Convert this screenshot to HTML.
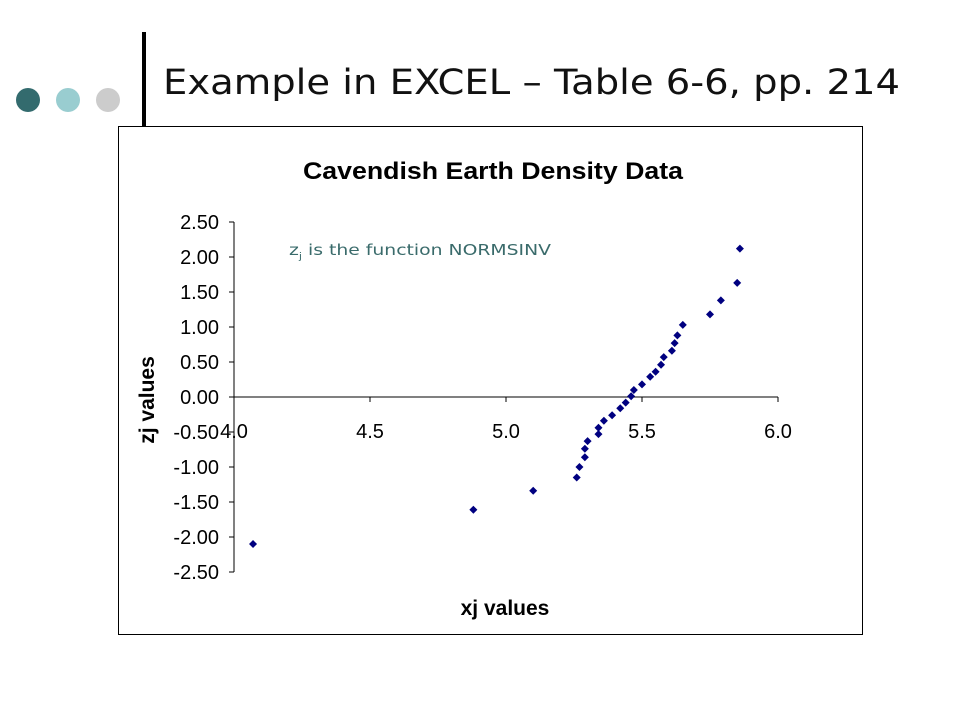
<!DOCTYPE html>
<html><head><meta charset="utf-8"><style>
body{margin:0;width:960px;height:720px;background:#fff;overflow:hidden;font-family:"Liberation Sans",sans-serif}
</style></head><body>
<svg width="960" height="720" xmlns="http://www.w3.org/2000/svg">
<circle cx="28" cy="100" r="12" fill="#336b6e"/>
<circle cx="68" cy="100" r="12" fill="#99cdd0"/>
<circle cx="108" cy="100" r="12" fill="#cccccc"/>
<rect x="142" y="32" width="4" height="94" fill="#000"/>
<text x="163" y="94" font-family="DejaVu Sans, sans-serif" font-size="35" fill="#111" textLength="737" lengthAdjust="spacingAndGlyphs">Example in EXCEL – Table 6-6, pp. 214</text>
<rect x="118.5" y="126.5" width="744" height="508" fill="#fff" stroke="#000" stroke-width="1"/>
<text x="303" y="179" font-size="24" font-weight="bold" textLength="380" lengthAdjust="spacingAndGlyphs">Cavendish Earth Density Data</text>
<text x="505" y="615" text-anchor="middle" font-size="21" font-weight="bold">xj values</text>
<text transform="translate(154,400) rotate(-90)" text-anchor="middle" font-size="21" font-weight="bold">zj values</text>
<text x="289" y="255" font-family="DejaVu Sans, sans-serif" font-size="15" fill="#3a6b6b" textLength="262" lengthAdjust="spacingAndGlyphs">z<tspan font-size="9" dy="4">j</tspan><tspan dy="-4"> is the function NORMSINV</tspan></text>
<g id="axes"></g>
<g id="pts"></g>
</svg>
<script>
const xTicks=["4.0","4.5","5.0","5.5","6.0"];
const yTicks=["2.50","2.00","1.50","1.00","0.50","0.00","-0.50","-1.00","-1.50","-2.00","-2.50"];
const xVals=[4.07,4.88,5.10,5.26,5.27,5.29,5.29,5.30,5.34,5.34,5.36,5.39,5.42,5.44,5.46,5.47,5.50,5.53,5.55,5.57,5.58,5.61,5.62,5.63,5.65,5.75,5.79,5.85,5.86];
const zVals=[-2.10,-1.61,-1.34,-1.15,-1.00,-0.86,-0.74,-0.63,-0.53,-0.44,-0.34,-0.26,-0.16,-0.08,0.01,0.10,0.18,0.29,0.36,0.46,0.57,0.66,0.77,0.88,1.03,1.18,1.38,1.63,2.12];
const NS="http://www.w3.org/2000/svg";
function sx(v){return 234+(v-4)*272;}
function sy(v){return 397-v*70;}
const ax=document.getElementById('axes');
function mk(t,a,p){const e=document.createElementNS(NS,t);for(const k in a)e.setAttribute(k,a[k]);p.appendChild(e);return e;}
let l=mk('line',{x1:234,y1:sy(2.5),x2:234,y2:sy(-2.5),stroke:'#000'},ax);


l=mk('line',{x1:234,y1:sy(0),x2:sx(6),y2:sy(0),stroke:'#000'},ax);


yTicks.forEach(t=>{const v=parseFloat(t);
 const tk=mk('line',{x1:229,y1:sy(v),x2:234,y2:sy(v),stroke:'#000'},ax);
 
 
 const tx=mk('text',{x:219,y:sy(v)+7,'text-anchor':'end','font-size':20},ax);
 tx.textContent=t;
 
 
});
xTicks.forEach(t=>{const v=parseFloat(t);
 const tk=mk('line',{x1:sx(v),y1:sy(0),x2:sx(v),y2:sy(0)+5,stroke:'#000'},ax);
 
 
 const tx=mk('text',{x:sx(v),y:sy(0)+41,'text-anchor':'middle','font-size':20},ax);
 tx.textContent=t;
 
 
});
const pg=document.getElementById('pts');
xVals.forEach((x,i)=>{const cx=sx(x),cy=sy(zVals[i]);
 const p=mk('polygon',{points:`${cx},${cy-4} ${cx+4},${cy} ${cx},${cy+4} ${cx-4},${cy}`,fill:'#000080'},pg);
 
 
});
</script>
</body></html>
